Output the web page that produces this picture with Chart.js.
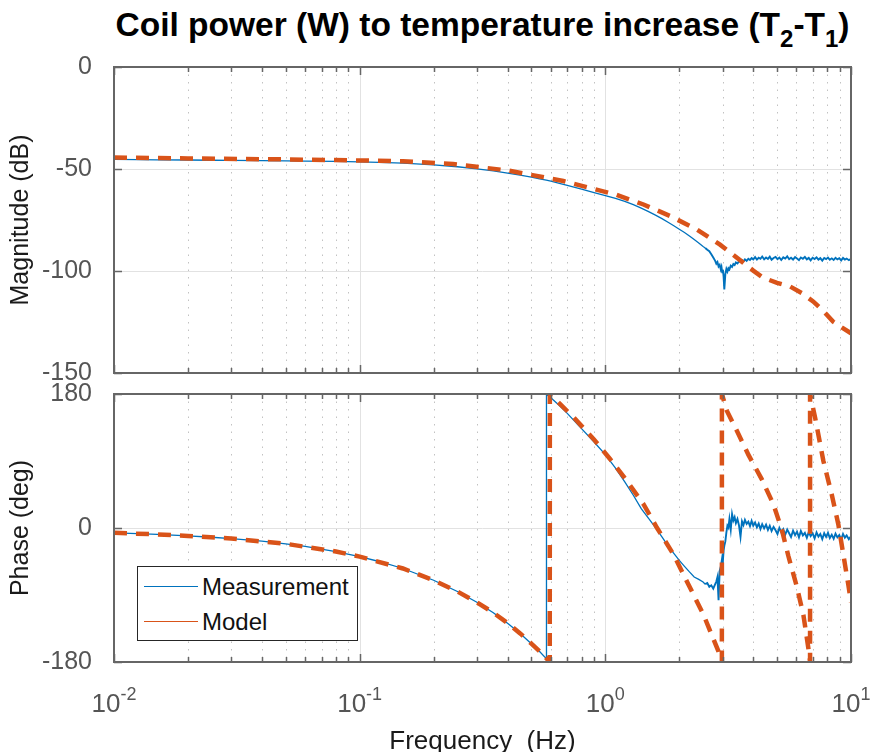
<!DOCTYPE html>
<html>
<head>
<meta charset="utf-8">
<script src="https://cdn.jsdelivr.net/npm/chart.js@4.4.1/dist/chart.umd.min.js"></script>
<style>
  html, body { margin: 0; padding: 0; background: #fff; }
  #wrap { position: relative; width: 871px; height: 752px; overflow: hidden; background: #fff;
          font-family: "Liberation Sans", Arial, Helvetica, sans-serif; }
  #title { position: absolute; left: 114px; width: 737px; top: 8px; text-align: center;
           font-weight: bold; font-size: 33.5px; line-height: 34px; color: #000; white-space: nowrap; }
  #title sub { font-size: 24px; line-height: 0; vertical-align: -11px; }
  #magCanvas { position: absolute; left: 0; top: 0; }
  #phaseCanvas { position: absolute; left: 0; top: 362px; }
  #legend { position: absolute; left: 137px; top: 566px; width: 219px; height: 73px;
            border: 1px solid #262626; background: #fff; }
  .row { position: absolute; left: 0; height: 30px; width: 100%; }
  .row .swatch { position: absolute; left: 6px; width: 54px; height: 0; border-top: 1.5px solid; top: 14px; }
  .row .name { position: absolute; left: 64px; top: 0; font-size: 24px; line-height: 30px; color: #111; }
</style>
</head>
<body>
<div id="wrap">
  <div id="title">Coil power (W) to temperature increase (T<sub>2</sub>-T<sub>1</sub>)</div>
  <canvas id="magCanvas" width="871" height="405"></canvas>
  <canvas id="phaseCanvas" width="871" height="390"></canvas>
  <div id="legend"></div>
</div>
<script>
// ---- data (frequency in Hz, magnitude in dB, phase in degrees) ----
const seriesNames = ['Measurement', 'Model'];
const seriesColors = ['#0072BD', '#D95319'];
const freqTickExps = [-2, -1, 0, 1];

const measFreq = [
  0.01, 0.0125, 0.015, 0.02, 0.025, 0.03, 0.04, 0.05, 0.06, 0.08,
  0.1, 0.12, 0.15, 0.2, 0.25, 0.3, 0.35, 0.4, 0.45, 0.5,
  0.54, 0.575, 0.576, 0.6, 0.65, 0.7, 0.8, 0.9, 1.0, 1.1,
  1.2, 1.3, 1.4, 1.5, 1.6, 1.7, 1.8, 1.9, 2.0, 2.1,
  2.2, 2.3, 2.4, 2.5, 2.55, 2.6, 2.65, 2.7, 2.75, 2.8,
  2.83, 2.86, 2.89, 2.92, 2.95, 2.97, 2.99, 3.01, 3.03, 3.05,
  3.08, 3.11, 3.14, 3.17, 3.2, 3.24, 3.28, 3.32, 3.36, 3.4,
  3.45, 3.5, 3.55, 3.6, 3.65, 3.7, 3.76, 3.82, 3.88, 3.94,
  4.0, 4.07, 4.14, 4.21, 4.28, 4.35, 4.43, 4.51, 4.59, 4.67,
  4.75, 4.84, 4.93, 5.02, 5.11, 5.2, 5.3, 5.4, 5.5, 5.6,
  5.7, 5.81, 5.92, 6.03, 6.14, 6.25, 6.37, 6.49, 6.61, 6.73,
  6.85, 6.98, 7.11, 7.24, 7.37, 7.5, 7.64, 7.78, 7.92, 8.06,
  8.2, 8.35, 8.5, 8.65, 8.8, 8.96, 9.12, 9.28, 9.44, 9.6,
  9.8, 10.0
];
const measMag = [
  -45.3, -45.4, -45.5, -45.6, -45.7, -45.8, -45.9, -46.0, -46.1, -46.3,
  -46.5, -46.8, -47.1, -48.0, -48.9, -49.9, -50.9, -52.0, -53.0, -54.0,
  -54.8, -55.5, -55.5, -56.0, -57.0, -58.0, -59.9, -61.6, -63.0, -64.4,
  -65.9, -67.5, -69.2, -70.9, -72.6, -74.3, -76.1, -77.8, -79.5, -81.1,
  -82.8, -84.6, -86.3, -88.0, -88.7, -89.6, -90.3, -91.8, -93.4, -95.0,
  -96.4, -95.6, -97.8, -97.0, -99.2, -98.0, -100.6, -99.4, -102.8, -109.0,
  -101.5, -99.0, -100.3, -98.6, -99.2, -97.4, -98.0, -96.6, -97.1, -95.8,
  -96.3, -95.2, -95.6, -94.7, -95.3, -94.3, -95.0, -94.0, -94.6, -93.7,
  -94.3, -93.2, -94.4, -93.5, -94.0, -92.9, -94.3, -93.4, -94.1, -93.0,
  -94.5, -93.6, -93.1, -94.2, -93.4, -94.6, -93.3, -93.9, -92.8, -94.2,
  -93.5, -94.4, -93.2, -93.9, -94.7, -93.4, -94.0, -93.1, -94.3, -93.6,
  -94.8, -93.5, -94.1, -93.3, -94.4, -93.7, -94.9, -93.6, -94.2, -93.4,
  -94.5, -93.8, -94.6, -93.5, -94.3, -93.7, -94.8, -93.6, -94.4, -93.9,
  -94.7, -94.0
];
const measPhase = [
  -6.5, -7.5, -8.6, -10.6, -12.4, -14.2, -17.6, -21.2, -24.6, -31.6,
  -38.4, -45.0, -54.4, -70.2, -85.3, -99.8, -113.8, -127.8, -141.6, -155.4,
  -166.0, -175.5, 179.5, 175.0, 164.5, 154.0, 133.5, 115.5, 98.5, 80.5,
  62.0, 44.0, 26.0, 13.0, 0.5, -12.0, -24.0, -34.0, -43.5, -51.5,
  -59.0, -65.8, -69.0, -72.5, -75.5, -74.0, -79.0, -77.0, -81.5, -75.5,
  -72.0, -66.0, -97.0, -58.0, -52.0, -46.5, -40.0, -44.0, -30.0, -24.0,
  -18.0, -6.0, 3.0, 0.5, 12.0, -2.0, 18.5, 10.0, 14.5, 6.5,
  12.0, 3.5, -12.0, 9.0, 4.0, 11.0, 5.5, 8.5, 2.5, 9.5,
  3.0, 7.5, 1.0, 6.0, -1.5, 5.0, -0.5, 4.5, -2.5, 3.0,
  -4.0, 1.5, -3.0, -8.0, 0.0, -5.5, -1.5, -9.0, -2.0, -7.0,
  -12.0, -3.5, -9.5, -5.0, -12.5, -4.0, -10.0, -6.5, -13.0, -5.5,
  -11.0, -7.0, -14.0, -6.0, -11.5, -8.0, -15.0, -7.0, -12.0, -6.5,
  -13.5, -9.0, -14.5, -7.5, -12.5, -9.5, -15.5, -8.0, -13.0, -10.0,
  -15.0, -11.0
];

const modelMagFreq = [
  0.01, 0.02, 0.05, 0.1, 0.15, 0.24, 0.4, 0.675, 1.1, 1.43,
  1.84, 2.36, 2.93, 3.64, 4.0, 4.39, 5.0, 5.65, 6.3, 7.01,
  7.7, 8.45, 9.2, 10.0
];
const modelMag = [
  -44.4, -44.8, -45.3, -45.8, -46.2, -47.6, -50.7, -55.9, -62.5, -67.4,
  -73.1, -79.7, -87.1, -95.9, -99.8, -103.3, -105.8, -107.6, -110.8, -114.9,
  -119.5, -124.8, -127.8, -130.5
];

// phase wraps at +/-180, so each wrap is a pair of nearly equal frequencies
const modelPhaseFreq = [
  0.01, 0.015, 0.02, 0.03, 0.05, 0.08, 0.1, 0.15, 0.2, 0.25,
  0.3, 0.35, 0.4, 0.45, 0.5, 0.55, 0.594,
  0.5945, 0.743, 0.897, 1.047, 1.225, 1.432, 1.622, 1.896, 2.148, 2.51, 2.89, 2.981,
  2.982, 3.123, 3.431, 3.825, 4.335, 4.834, 5.226, 5.563, 6.014, 6.4, 6.707, 6.813,
  6.814, 7.14, 7.72, 8.344, 8.882, 9.307, 9.752, 10.0
];
const modelPhase = [
  -6.5, -8.6, -10.6, -14.2, -21.2, -31.6, -38.4, -54.4, -70.2, -85.3,
  -99.8, -113.8, -127.8, -141.6, -155.4, -168.0, -180,
  180, 148.6, 119.3, 92.4, 63.1, 31.7, 0.3, -35.7, -71.7, -116.6, -166.0, -180,
  180, 157.5, 130.6, 98.2, 65.4, 31.7, -2.0, -38.0, -78.4, -116.6, -161.6, -180,
  180, 148.6, 90.1, 45.2, 4.7, -35.7, -76.2, -100
];

function toPoints(xs, ys) {
  return xs.map((x, i) => ({ x: x, y: ys[i] }));
}

const FONT = '"Liberation Sans", Arial, Helvetica, sans-serif';
const AXIS_GRAY = '#666666';

// MATLAB-like axes: dotted minor grid, light major grid, boxed frame with inward ticks
const matlabAxes = {
  id: 'matlabAxes',
  beforeDatasetsDraw(chart) {
    const { ctx, chartArea: a, scales: { x, y } } = chart;
    ctx.save();
    ctx.lineWidth = 1;
    ctx.strokeStyle = '#c2c2c2';
    ctx.setLineDash([1.5, 6]);
    for (let d = -2; d < 1; d++) {
      for (let m = 2; m <= 9; m++) {
        const px = Math.round(x.getPixelForValue(m * Math.pow(10, d))) + 0.5;
        ctx.beginPath(); ctx.moveTo(px, a.top); ctx.lineTo(px, a.bottom); ctx.stroke();
      }
    }
    ctx.setLineDash([]);
    ctx.strokeStyle = '#e2e2e2';
    [0.1, 1].forEach(v => {
      const px = Math.round(x.getPixelForValue(v)) + 0.5;
      ctx.beginPath(); ctx.moveTo(px, a.top); ctx.lineTo(px, a.bottom); ctx.stroke();
    });
    y.ticks.forEach(t => {
      if (t.value <= y.min || t.value >= y.max) return;
      const py = Math.round(y.getPixelForValue(t.value)) + 0.5;
      ctx.beginPath(); ctx.moveTo(a.left, py); ctx.lineTo(a.right, py); ctx.stroke();
    });
    ctx.restore();
  },
  afterDatasetsDraw(chart, args, opts) {
    const { ctx, chartArea: a, scales: { x, y } } = chart;
    ctx.save();
    ctx.strokeStyle = AXIS_GRAY;
    ctx.lineWidth = 1.5;
    // x ticks on top and bottom edges
    for (let d = -2; d <= 1; d++) {
      for (let m = 1; m <= 9; m++) {
        const v = m * Math.pow(10, d);
        if (v > 10.0001) break;
        const px = Math.round(x.getPixelForValue(v)) + 0.5;
        const len = m === 1 ? 8 : 5;
        ctx.beginPath();
        ctx.moveTo(px, a.bottom); ctx.lineTo(px, a.bottom - len);
        ctx.moveTo(px, a.top); ctx.lineTo(px, a.top + len);
        ctx.stroke();
      }
    }
    // y ticks on left and right edges
    y.ticks.forEach(t => {
      const py = Math.round(y.getPixelForValue(t.value)) + 0.5;
      ctx.beginPath();
      ctx.moveTo(a.left, py); ctx.lineTo(a.left + 8, py);
      ctx.moveTo(a.right, py); ctx.lineTo(a.right - 8, py);
      ctx.stroke();
    });
    ctx.lineWidth = 2;
    ctx.strokeRect(a.left, a.top, a.right - a.left, a.bottom - a.top);
    ctx.restore();

    if (!opts.xLabels) return;
    // decade labels with superscript exponents, and the axis title
    ctx.save();
    ctx.fillStyle = '#555555';
    ctx.textBaseline = 'alphabetic';
    ctx.textAlign = 'left';
    freqTickExps.forEach(e => {
      const px = x.getPixelForValue(Math.pow(10, e));
      ctx.font = '26px ' + FONT;
      const wb = ctx.measureText('10').width;
      ctx.font = '18px ' + FONT;
      const we = ctx.measureText(String(e)).width;
      const x0 = px - (wb + we) / 2;
      ctx.font = '26px ' + FONT;
      ctx.fillText('10', x0, opts.labelBaseline);
      ctx.font = '18px ' + FONT;
      ctx.fillText(String(e), x0 + wb, opts.labelBaseline - 12);
    });
    ctx.fillStyle = '#1a1a1a';
    ctx.textAlign = 'center';
    ctx.font = '26px ' + FONT;
    ctx.fillText('Frequency  (Hz)', (a.left + a.right) / 2, opts.titleBaseline);
    ctx.restore();
  }
};

function yAxis(min, max, step, title) {
  return {
    min: min, max: max,
    grid: { display: false },
    border: { display: false },
    ticks: { stepSize: step, padding: 14, color: '#555555', font: { size: 25, family: FONT } },
    title: { display: true, text: title, color: '#1a1a1a', font: { size: 25, family: FONT },
             padding: { top: 6, bottom: 0 } },
    afterFit: s => { s.width = 114; }
  };
}

function baseOptions(pad, yScale, axesOpts) {
  return {
    responsive: false,
    animation: false,
    events: [],
    devicePixelRatio: 1,
    layout: { padding: pad },
    plugins: {
      legend: { display: false },
      tooltip: { enabled: false },
      matlabAxes: axesOpts
    },
    scales: {
      x: { type: 'logarithmic', min: 0.01, max: 10, display: false },
      y: yScale
    }
  };
}

function datasets(measY, modelX, modelY) {
  return [
    {
      label: seriesNames[0],
      data: toPoints(measFreq, measY),
      borderColor: seriesColors[0],
      borderWidth: 1.3,
      // the noisy high-frequency part reads as a thicker band
      segment: { borderWidth: c => (c.p0.parsed.x > 2.5 ? 1.9 : 1.3) },
      pointRadius: 0,
      tension: 0,
      order: 2
    },
    {
      label: seriesNames[1],
      data: toPoints(modelX, modelY),
      borderColor: seriesColors[1],
      borderWidth: 4.5,
      borderDash: [13, 9],
      borderCapStyle: 'butt',
      pointRadius: 0,
      tension: 0,
      order: 1
    }
  ];
}

// paddings are kept above the y tick labels' own half-height so the plot areas land exactly
const magChart = new Chart(document.getElementById('magCanvas').getContext('2d'), {
  type: 'line',
  data: { datasets: datasets(measMag, modelMagFreq, modelMag) },
  options: baseOptions({ top: 67, right: 20, bottom: 32, left: 0 },
                       yAxis(-150, 0, 50, 'Magnitude (dB)'), { xLabels: false }),
  plugins: [matlabAxes]
});

const phaseChart = new Chart(document.getElementById('phaseCanvas').getContext('2d'), {
  type: 'line',
  data: { datasets: datasets(measPhase, modelPhaseFreq, modelPhase) },
  options: baseOptions({ top: 32, right: 20, bottom: 90, left: 0 },
                       yAxis(-180, 180, 180, 'Phase (deg)'),
                       { xLabels: true, labelBaseline: 350, titleBaseline: 387 }),
  plugins: [matlabAxes]
});

// legend box, built from the series names and colours
const legend = document.getElementById('legend');
seriesNames.forEach((name, i) => {
  const row = document.createElement('div');
  row.className = 'row';
  row.style.top = (5 + i * 35) + 'px';
  row.innerHTML = '<div class="swatch" style="border-color:' + seriesColors[i] + '"></div>' +
                  '<div class="name">' + name + '</div>';
  legend.appendChild(row);
});
</script>
</body>
</html>
